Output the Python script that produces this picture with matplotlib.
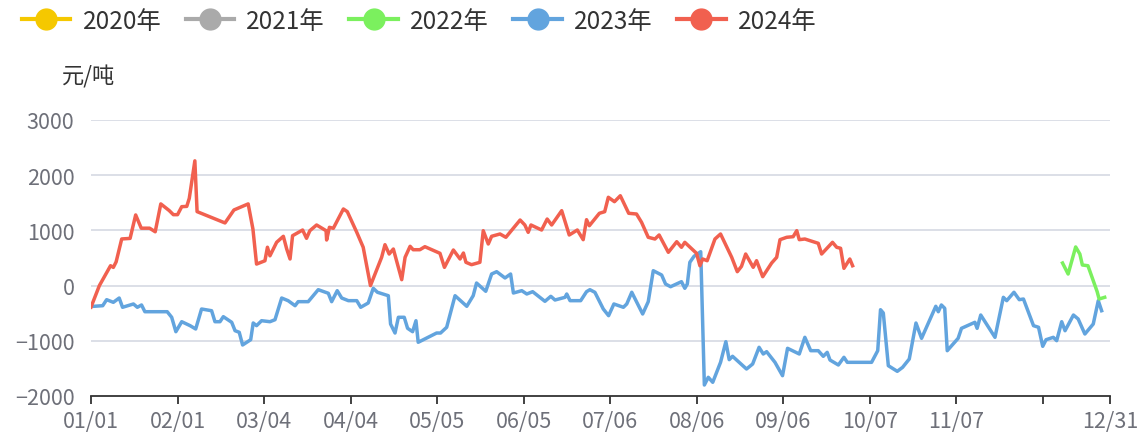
import matplotlib.pyplot as plt
from matplotlib.lines import Line2D

plt.rcParams['font.family'] = ['Noto Sans CJK SC', 'DejaVu Sans']

# x = day index of the year (0 = 01/01), y = price spread in 元/吨
days_2024 = [0, 3, 7, 8, 9, 11, 14, 16, 18, 21, 23, 25, 28, 29.5, 31, 32.5, 34.3, 35.2, 37.2, 38,
             48, 51.2, 56.3, 58, 59.3, 62.3, 63.2, 64.1, 66.5, 68.9, 70.1, 71.3, 72.2, 75.8, 77.2,
             78.4, 80.8, 84.2, 84.4, 85.4, 86.8, 90.4, 91.8, 95.2, 97.5, 100.1, 104.1, 105.3, 106.8,
             108.3, 111.3, 112.5, 114.3, 115.4, 117.8, 119.6, 125, 126.6, 129.8, 132.2, 133.4, 134.3,
             136.3, 139.3, 140.5, 142.3, 143.5, 146.5, 148.6, 153.7, 155.4, 156.6, 157.6, 161.4,
             163.4, 165, 168.6, 171.3, 174.2, 176.3, 177.5, 178.5, 182.1, 184, 185.3, 187.5, 189.6,
             192.6, 195.4, 197.2, 199.6, 202, 203.5, 206.8, 209.8, 211.5, 212.7, 216.9, 218.1, 219.1,
             220.7, 223.5, 225.5, 229.5, 231.5, 233, 234.5, 237.2, 238.4, 240.6, 243.8, 245.6, 246.8,
             249.2, 251.5, 252.8, 253.7, 255.7, 260.5, 261.7, 265.6, 267.1, 268.5, 269.7, 271.8, 272.8]
vals_2024 = [-390, 0, 360, 330, 430, 845, 855, 1280, 1040, 1040, 975, 1480, 1360, 1285, 1285, 1430,
             1435, 1580, 2260, 1340, 1135, 1370, 1480, 1025, 390, 450, 695, 540, 785, 893, 663, 482,
             904, 1007, 857, 995, 1098, 995, 826, 1056, 1038, 1388, 1340, 965, 694, 0, 512, 741, 572,
             663, 107, 512, 712, 650, 650, 705, 585, 331, 645, 482, 590, 422, 379, 422, 995, 754, 893,
             935, 875, 1188, 1098, 965, 1098, 1007, 1206, 1098, 1357, 917, 1007, 832, 1194, 1085,
             1310, 1339, 1600, 1520, 1628, 1310, 1297, 1147, 875, 844, 917, 603, 795, 694, 784, 585,
             360, 482, 451, 844, 935, 512, 252, 349, 572, 331, 451, 161, 409, 512, 832, 875, 886, 995,
             832, 844, 766, 572, 784, 694, 676, 313, 482, 360]

days_2023 = [1, 4.2, 5.6, 8, 10.1, 11.3, 15.2, 16.6, 18.1, 19.3, 27.3, 28.9, 30.4, 32.5, 35.5, 37.5,
             39.6, 43.2, 44.4, 46.2, 47.4, 50.4, 51.6, 53.1, 54.3, 57.2, 58.1, 59.3, 61.1, 64.1, 65.9,
             68.3, 70.6, 73.1, 74.2, 77.8, 81.4, 85, 86.2, 88.2, 89.8, 92.2, 95.2, 96.6, 99.3, 101.1,
             102.6, 106.5, 107.3, 108.9, 110.1, 112.2, 113.4, 115.2, 116.4, 117.2, 123.8, 125.2, 127.4,
             130.4, 134.6, 136.9, 138.1, 141.4, 143.5, 145.3, 148.3, 150.3, 151.3, 154.3, 156.1, 158.2,
             162.6, 164.7, 166.2, 169.8, 170.4, 171.6, 175.4, 177.5, 178.7, 180.5, 183.5, 185.4, 187.3,
             190.7, 191.9, 193.7, 197.6, 199.6, 201.4, 204.4, 205.8, 207.6, 211.5, 212.7, 213.6, 214.5,
             216, 218.4, 219.7, 221.1, 222.7, 225.5, 227.4, 228.6, 229.8, 234.8, 237, 239.3, 240.8, 242,
             245, 247.7, 249.5, 253.7, 255.7, 257.8, 260.5, 262.3, 263.7, 264.7, 267.7, 269.7, 270.9,
             279.6, 281.8, 282.8, 283.8, 285.6, 288.8, 290.7, 293.1, 295.5, 297.5, 302.6, 303.5, 304.6,
             305.8, 306.7, 310.6, 311.8, 316.6, 317.4, 318.7, 323.8, 326.8, 328, 330.6, 332.5, 334,
             337.6, 339.4, 340.9, 342.1, 344.7, 345.9, 347.7, 348.9, 351.9, 353.6, 356, 359, 360.8, 362]
vals_2023 = [-375, -364, -255, -303, -225, -393, -333, -393, -351, -473, -473, -574, -835, -654, -726,
             -786, -424, -455, -654, -654, -563, -665, -817, -846, -1076, -980, -677, -726, -636, -654,
             -618, -225, -273, -364, -291, -291, -74, -139, -291, -92, -225, -273, -273, -393, -315,
             -49, -121, -183, -696, -859, -574, -574, -774, -835, -636, -1027, -859, -859, -755, -183,
             -375, -183, 47, -103, 210, 252, 138, 210, -134, -92, -152, -110, -285, -194, -261, -212,
             -152, -273, -273, -110, -74, -122, -424, -545, -333, -393, -333, -121, -514, -291, 270,
             192, 29, -20, 71, -49, 29, 422, 531, 614, -1801, -1661, -1752, -1390, -1016, -1342, -1281,
             -1511, -1420, -1118, -1239, -1197, -1390, -1632, -1136, -1239, -937, -1179, -1179, -1281,
             -1209, -1348, -1438, -1299, -1390, -1390, -1179, -437, -496, -1451, -1553, -1481, -1330,
             -678, -955, -375, -473, -351, -411, -1179, -955, -774, -665, -774, -533, -937, -212, -273,
             -121, -255, -243, -726, -755, -1100, -980, -937, -998, -654, -817, -533, -605, -877, -696,
             -273, -455]

days_2022 = [348, 350, 352.7, 354.2, 355.1, 357.1, 360.4, 361.1, 363.1]
vals_2022 = [409, 210, 700, 572, 373, 360, -110, -243, -212]

tick_days = [0, 31, 62, 93, 124, 155, 186, 217, 248, 279, 310, 341, 365]
tick_labels = ['01/01', '02/01', '03/04', '04/04', '05/05', '06/05', '07/06', '08/06',
               '09/06', '10/07', '11/07', '', '12/31']

years = ['2020年', '2021年', '2022年', '2023年', '2024年']
colors = ['#f5c800', '#aaaaaa', '#7bf05e', '#62a4de', '#f1604f']

fig = plt.figure(figsize=(11.46, 4.39), dpi=100)
ax = fig.add_axes([91 / 1146, 42 / 439, 1019 / 1146, 276 / 439])

ax.plot(days_2023, vals_2023, color=colors[3], lw=2.5, solid_joinstyle='round')
ax.plot(days_2024, vals_2024, color=colors[4], lw=2.5, solid_joinstyle='round')
ax.plot(days_2022, vals_2022, color=colors[2], lw=2.5, solid_joinstyle='round')

ax.set_xlim(0, 365)
ax.set_ylim(-2000, 3000)
ax.set_yticks([-2000, -1000, 0, 1000, 2000, 3000])
ax.set_xticks(tick_days)
ax.set_xticklabels(tick_labels)
ax.tick_params(axis='both', labelsize=15.5, labelcolor='#6e7079')
ax.tick_params(axis='y', length=0, pad=12)
ax.tick_params(axis='x', length=6, width=1.3, color='#333333', pad=4)
ax.grid(axis='y', color='#d6d9e3', lw=1.2)
for g in ax.get_ygridlines()[:1]:
    g.set_visible(False)
for s in ['top', 'right', 'left']:
    ax.spines[s].set_visible(False)
ax.spines['bottom'].set_color('#333333')
ax.spines['bottom'].set_linewidth(1.3)

fig.text(62 / 1146, 1 - 77 / 439, '元/吨', fontsize=16, color='#333333', va='center')

handles = [Line2D([], [], color=c, lw=3, marker='o', markersize=15) for c in colors]
fig.legend(handles, years, loc='upper left', bbox_to_anchor=(0.0, 1.03), ncol=5,
           frameon=False, fontsize=17.5, labelcolor='#333333', handlelength=2.0,
           handletextpad=0.5, columnspacing=1.0)

fig.savefig('out.png', dpi=100)
